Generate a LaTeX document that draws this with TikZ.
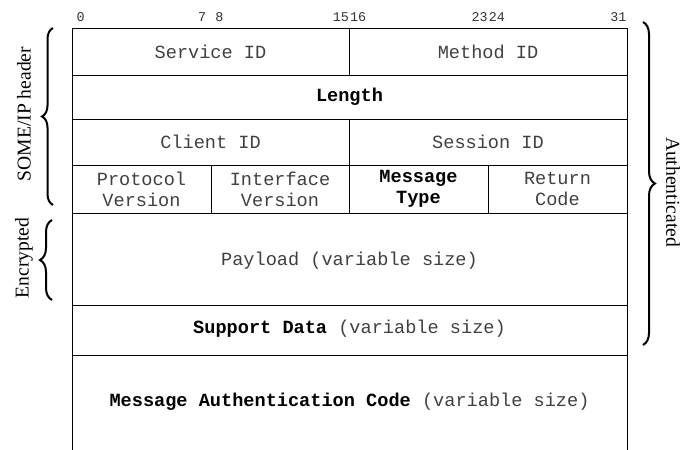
\documentclass[tikz,border=0pt]{standalone}
\usepackage{fontspec}
\setmainfont{Liberation Serif}
\setmonofont{Liberation Mono}
\usetikzlibrary{decorations.pathreplacing}
\tikzset{
	field/.style={font=\ttfamily\fontsize{9.3}{10.5}\selectfont, text=black!75, align=center, inner sep=0pt},
	keyfield/.style={field, text=black, font=\ttfamily\bfseries\fontsize{9.3}{10.5}\selectfont},
	bitnum/.style={font=\ttfamily\fontsize{6.7}{7}\selectfont, text=black!80, inner sep=0pt},
	grp/.style={line width=1pt, decorate, decoration={brace, amplitude=#1}},
	grplabel/.style={font=\fontsize{9.8}{11}\selectfont, inner sep=0pt}
}
\begin{document}
\begin{tikzpicture}[x=0.5pt, y=-0.5pt, line width=0.5pt]
			%%%%% START %%%%%
			\useasboundingbox (0, 0) rectangle (692, 450);
			
			% bit numbers
			\foreach \b in {0, 7, 8, 15, 16, 23, 24, 31}
				\node[bitnum] (bit\b) at ({72 + (\b + 0.5)*17.34375}, 17) {\b};
			
			% frame and rows
			\draw (72, 450) -- (72, 28) -- (627, 28) -- (627, 450);
			\draw (72, 75) -- (627, 75);
			\draw (72, 119) -- (627, 119);
			\draw (72, 165) -- (627, 165);
			\draw (72, 213) -- (627, 213);
			\draw (72, 305) -- (627, 305);
			\draw (72, 355) -- (627, 355);
			\draw (349, 28) -- (349, 75);
			\draw (349, 119) -- (349, 213);
			\draw (211, 165) -- (211, 213);
			\draw (488, 165) -- (488, 213);
			
			% field texts
			\node[field] (serviceid) at (210.5, 51.5) {Service ID};
			\node[field] (methodid) at (488, 51.5) {Method ID};
			\node[keyfield] (length) at (349.5, 97) {Length};
			\node[field] (clientid) at (210.5, 142) {Client ID};
			\node[field] (sessionid) at (488, 142) {Session ID};
			\node[field] (protover) at (141.5, 189) {Protocol\\Version};
			\node[field] (ifacever) at (280, 189) {Interface\\Version};
			\node[keyfield] (msgtype) at (418.5, 189) {Message\\Type};
			\node[field] (retcode) at (557.5, 189) {Return\\Code};
			\node[field] (payload) at (349.5, 261) {Payload (variable size)};
			\node[field] (supportdata) at (349.5, 329) {\textcolor{black}{\bfseries Support Data} (variable size)};
			\node[field] (mac) at (349.5, 402) {\textcolor{black}{\bfseries Message Authentication Code} (variable size)};
			
			% groups
			\draw[grp=5.5pt] (53, 205) -- (53, 28);
			\node[grplabel, rotate=90] (hdrlabel) at (24, 114) {SOME/IP header};
			\draw[grp=6pt] (52, 300) -- (52, 220);
			\node[grplabel, rotate=90] (enclabel) at (24, 258) {Encrypted};
			\draw[grp=6pt] (643, 22) -- (643, 345);
			\node[grplabel, rotate=-90] (authlabel) at (673, 192) {Authenticated};
			
			%%%%% END %%%%%
\end{tikzpicture}
\end{document}
